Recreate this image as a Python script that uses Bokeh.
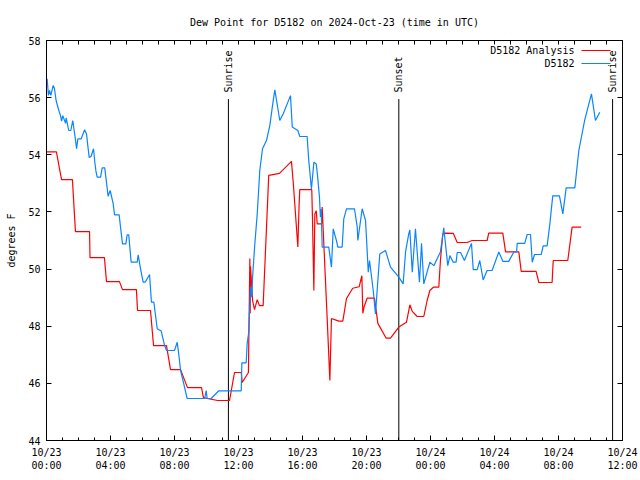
import datetime as dt
from math import pi
from bokeh.plotting import figure
from bokeh.models import (Range1d, DatetimeAxis, LinearAxis, FixedTicker,
                          DatetimeTickFormatter, Label, Arrow, ColumnDataSource)
from bokeh.core.properties import value
from bokeh.embed import file_html
from bokeh.resources import INLINE

TITLE = "Dew Point for D5182 on 2024-Oct-23 (time in UTC)"
Y_LABEL = "degrees F"
START = dt.datetime(2024, 10, 23, 0, 0)
END = dt.datetime(2024, 10, 24, 12, 0)
Y_MIN, Y_MAX = 44, 58
y_ticks = [44, 46, 48, 50, 52, 54, 56, 58]
x_major_hours = [0, 4, 8, 12, 16, 20, 24, 28, 32, 36]
x_minor_hours = list(range(0, 37))

# D5182 Analysis (red), hours after 2024-10-23 00:00 UTC
red_hours = [0.0, 0.62, 0.94, 1.62, 1.81, 2.69, 2.72, 3.62, 3.75, 4.56,
             4.75, 5.62, 5.69, 6.5, 6.69, 7.5, 7.75, 8.38, 8.81, 9.69,
             9.81, 10.69, 11.44, 11.75, 12.17, 12.23, 12.62, 12.71, 12.73, 12.75,
             12.88, 13.0, 13.17, 13.31, 13.54, 13.89, 14.56, 15.31, 15.42, 15.71,
             15.79, 15.83, 16.58, 16.62, 16.71, 16.77, 16.86, 16.92, 17.19, 17.23,
             17.54, 17.71, 17.81, 18.27, 18.52, 18.75, 19.14, 19.54, 19.71, 19.77,
             19.86, 20.04, 20.5, 20.71, 21.23, 21.5, 22.02, 22.5, 22.71, 22.86,
             23.17, 23.58, 23.79, 23.96, 24.2, 24.52, 24.62, 24.77, 24.94, 25.42,
             25.67, 26.29, 26.6, 27.54, 27.64, 28.52, 28.69, 29.52, 29.67, 30.6,
             30.77, 31.6, 31.67, 32.58, 32.85, 33.42]
red_vals = [54.1, 54.1, 53.13, 53.13, 51.31, 51.31, 50.4, 50.4, 49.56, 49.56,
            49.28, 49.28, 48.55, 48.55, 47.32, 47.32, 46.48, 46.48, 45.85, 45.85,
            45.5, 45.4, 45.4, 46.38, 46.38, 46.03, 46.38, 50.37, 48.45, 50.1,
            48.9, 48.58, 48.93, 48.72, 48.72, 53.28, 53.35, 53.77, 53.04, 50.77,
            52.3, 52.78, 52.78, 51.87, 49.25, 51.93, 52.04, 51.58, 51.58, 52.17,
            48.3, 46.1, 48.27, 48.18, 48.18, 48.97, 49.33, 49.38, 49.77, 48.45,
            48.7, 48.98, 48.98, 48.1, 47.58, 47.58, 47.97, 48.14, 48.75, 48.52,
            48.34, 48.34, 48.9, 49.25, 49.37, 49.37, 50.3, 51.23, 51.26, 51.25,
            50.93, 50.93, 51.0, 51.0, 51.26, 51.26, 50.6, 50.6, 49.92, 49.92,
            49.53, 49.53, 50.3, 50.3, 51.47, 51.47]

# D5182 observations (blue)
blue_hours = [0.04, 0.12, 0.19, 0.27, 0.42, 0.5, 0.6, 0.77, 0.88, 0.94,
              1.02, 1.19, 1.23, 1.39, 1.52, 1.64, 1.73, 1.79, 1.88, 1.96,
              2.17, 2.38, 2.5, 2.58, 2.67, 2.79, 2.94, 3.02, 3.1, 3.17,
              3.38, 3.48, 3.64, 3.79, 3.85, 3.98, 4.17, 4.25, 4.54, 4.62,
              4.75, 4.96, 5.04, 5.14, 5.29, 5.67, 5.73, 5.88, 6.04, 6.17,
              6.44, 6.56, 6.71, 6.92, 7.17, 7.38, 7.5, 8.0, 8.17, 8.29,
              8.38, 8.58, 8.79, 9.88, 9.98, 10.04, 10.29, 10.77, 12.17, 12.21,
              12.48, 12.54, 12.64, 12.75, 12.83, 12.88, 13.02, 13.17, 13.33, 13.5,
              13.75, 13.96, 14.14, 14.27, 14.38, 14.58, 14.79, 15.25, 15.36, 15.71,
              15.83, 16.29, 16.39, 16.5, 16.56, 16.71, 16.86, 16.94, 17.06, 17.12,
              17.17, 17.23, 17.64, 17.81, 17.92, 18.12, 18.21, 18.48, 18.58, 18.75,
              19.25, 19.42, 19.46, 19.73, 19.94, 20.04, 20.11, 20.19, 20.42, 20.56,
              20.83, 21.19, 21.5, 22.02, 22.29, 22.44, 22.64, 22.71, 22.86, 23.06,
              23.31, 23.44, 23.58, 23.96, 24.21, 24.62, 24.83, 25.08, 25.21, 25.42,
              25.6, 25.67, 25.88, 26.12, 26.56, 26.67, 26.92, 27.08, 27.29, 27.54,
              27.85, 28.27, 28.52, 28.89, 29.21, 29.38, 29.42, 29.89, 30.04, 30.25,
              30.36, 30.5, 30.92, 31.04, 31.29, 31.46, 31.64, 32.06, 32.27, 32.48,
              33.02, 33.27, 33.64, 34.06, 34.31, 34.58]
blue_vals = [56.66, 56.08, 56.25, 56.08, 56.43, 56.31, 55.9, 55.55, 55.37, 55.18,
             55.37, 55.1, 55.29, 54.85, 54.85, 55.2, 54.85, 54.62, 54.21, 54.56,
             54.56, 54.88, 54.73, 54.33, 53.9, 53.95, 54.21, 53.74, 53.39, 53.22,
             53.22, 53.54, 53.54, 52.84, 52.55, 52.75, 52.28, 51.9, 51.9, 51.5,
             50.88, 50.88, 51.2, 51.2, 50.24, 50.24, 50.5, 50.01, 49.54, 49.54,
             49.81, 48.84, 48.84, 47.91, 47.83, 47.33, 47.15, 47.15, 47.44, 46.91,
             46.45, 45.98, 45.47, 45.47, 45.75, 45.47, 45.47, 45.74, 45.74, 46.72,
             46.72, 47.38, 47.79, 49.37, 49.02, 49.72, 50.88, 51.93, 53.45, 54.21,
             54.5, 55.03, 55.78, 56.27, 55.9, 55.2, 55.43, 56.07, 54.97, 54.85,
             54.64, 54.64, 53.8, 53.16, 52.8, 53.74, 53.68, 53.27, 52.52, 51.82,
             52.1, 50.77, 50.77, 50.07, 51.41, 51.0, 50.77, 50.77, 51.76, 52.11,
             52.11, 51.47, 51.0, 52.11, 51.7, 50.65, 49.89, 50.3, 49.25, 48.43,
             50.53, 50.65, 50.07, 49.72, 49.48, 50.6, 51.23, 51.37, 49.89, 51.41,
             49.54, 50.9, 49.48, 50.24, 50.12, 50.6, 51.44, 50.12, 50.47, 50.24,
             50.24, 50.58, 50.58, 50.3, 50.9, 49.98, 49.98, 50.3, 49.62, 49.95,
             49.95, 50.6, 50.27, 50.27, 50.6, 50.6, 50.9, 50.9, 51.21, 51.21,
             50.24, 50.51, 50.51, 50.81, 50.81, 51.58, 52.56, 52.56, 51.93, 52.84,
             52.84, 54.15, 55.22, 56.13, 55.2, 55.49]

# Sun events
sun_names = ["Sunrise", "Sunset", "Sunrise"]
sun_hours = [11.37, 22.02, 35.38]

series_names = ["D5182 Analysis", "D5182"]
series_colors = ["#ff0000", "#0a84ff"]

FONT = "DejaVu Sans Mono"
FS = "10px"


def to_time(hours):
    return [START + dt.timedelta(hours=h) for h in hours]


def to_ms(hours):
    return [(START + dt.timedelta(hours=h) - dt.datetime(1970, 1, 1)).total_seconds() * 1000.0
            for h in hours]


p = figure(x_axis_type="datetime",
           x_range=Range1d(START, END), y_range=Range1d(Y_MIN, Y_MAX),
           frame_width=576, frame_height=400,
           min_border_left=46, min_border_right=18, min_border_top=40, min_border_bottom=30,
           output_backend="svg", toolbar_location=None, title=TITLE)
p.background_fill_color = "white"
p.border_fill_color = "white"
p.outline_line_color = "black"
p.outline_line_alpha = 1.0
p.xgrid.visible = False
p.ygrid.visible = False

p.title.align = "center"
p.title.text_font = FONT
p.title.text_font_size = FS
p.title.text_font_style = "normal"
p.title.text_color = "black"
p.title.standoff = 25

x_ticker = FixedTicker(ticks=to_ms(x_major_hours), minor_ticks=to_ms(x_minor_hours))
y_ticker = FixedTicker(ticks=y_ticks, minor_ticks=[])
fmt = "%m/%d\n%H:%M"
x_fmt = DatetimeTickFormatter(hours=fmt, hourmin=fmt, days=fmt, minutes=fmt, months=fmt)


def style(ax):
    ax.axis_line_color = "black"
    ax.major_tick_line_color = "black"
    ax.minor_tick_line_color = "black"
    ax.major_tick_in = 5
    ax.major_tick_out = 0
    ax.minor_tick_in = 3
    ax.minor_tick_out = 0
    ax.major_label_text_font = FONT
    ax.major_label_text_font_size = FS
    ax.major_label_text_color = "black"


xa = p.xaxis[0]
xa.ticker = x_ticker
xa.formatter = x_fmt
style(xa)
xa.major_label_standoff = 6

ya = p.yaxis[0]
ya.ticker = y_ticker
style(ya)
ya.major_label_standoff = 6
ya.axis_label = Y_LABEL
ya.axis_label_text_font = FONT
ya.axis_label_text_font_size = FS
ya.axis_label_text_font_style = "normal"
ya.axis_label_text_color = "black"
ya.axis_label_standoff = 8

# mirrored tick marks on top and right (tick marks only, no labels)
top = DatetimeAxis(ticker=FixedTicker(ticks=[], minor_ticks=to_ms(x_minor_hours)))
style(top)
top.minor_tick_in = 4
p.add_layout(top, "above")
right = LinearAxis(ticker=FixedTicker(ticks=[], minor_ticks=y_ticks))
style(right)
right.minor_tick_in = 5
p.add_layout(right, "right")

# sunrise / sunset markers
sun_src = ColumnDataSource(dict(t=to_time(sun_hours), name=sun_names,
                                y0=[Y_MIN] * len(sun_hours),
                                y1=[Y_MAX - 2.05] * len(sun_hours),
                                ylab=[Y_MAX - 1.82] * len(sun_hours)))
p.segment(x0="t", y0="y0", x1="t", y1="y1", source=sun_src, line_color="black", line_width=1)
p.text(x="t", y="ylab", text="name", source=sun_src, angle=pi / 2,
       text_align="left", text_baseline="middle",
       text_font=value(FONT), text_font_size=value(FS), text_color="black")

# series
p.line(to_time(red_hours), red_vals, line_color=series_colors[0], line_width=1.2)
p.line(to_time(blue_hours), blue_vals, line_color=series_colors[1], line_width=1.2)

# legend drawn gnuplot-style: text right-aligned, sample line on its right
for i, (name, col) in enumerate(zip(series_names, series_colors)):
    ys = 390 - 13 * i
    p.add_layout(Label(x=528, y=ys, x_units="screen", y_units="screen", text=name,
                       text_align="right", text_baseline="middle",
                       text_font=FONT, text_font_size=FS, text_color="black"))
    p.add_layout(Arrow(end=None, x_start=535, y_start=ys, x_end=564, y_end=ys,
                       start_units="screen", end_units="screen",
                       line_color=col, line_width=1.2))

open("out.html", "w").write(file_html(p, INLINE))
